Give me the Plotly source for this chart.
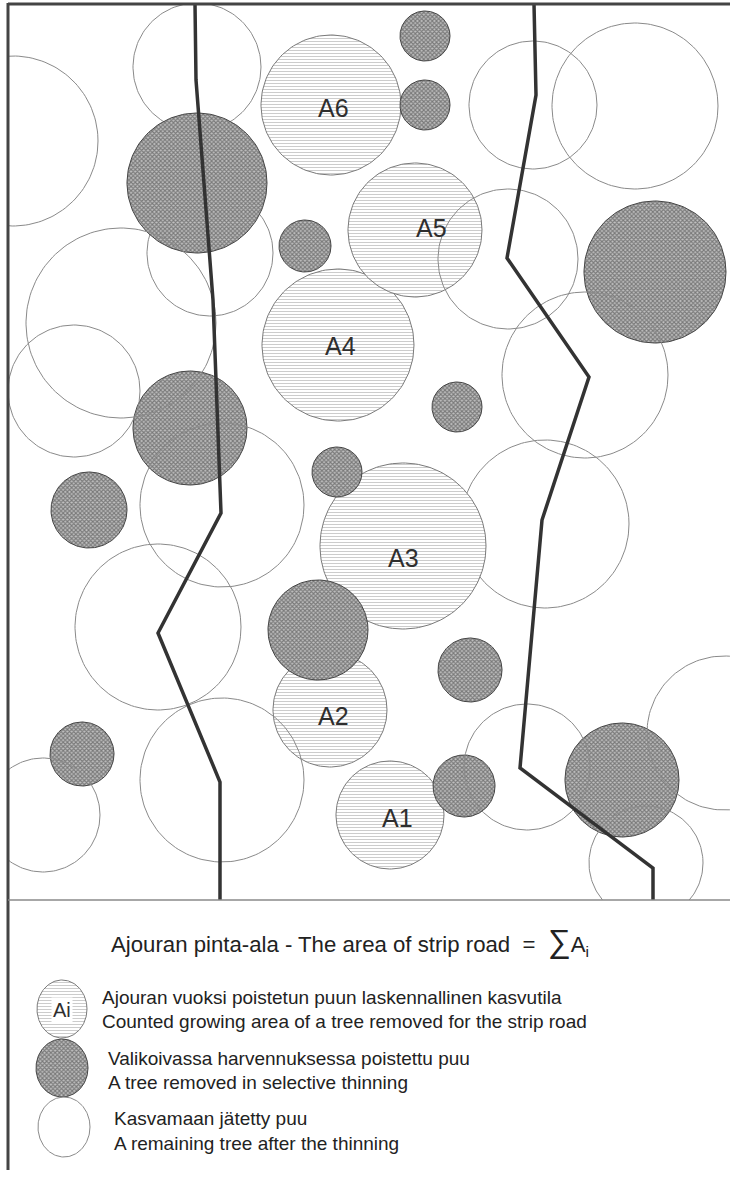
import numpy as np
import plotly.graph_objects as go

W, H = 730, 1178
PLOT_BOTTOM = 900  # y (px) of the lower border of the stand map
LEFT = 8
TOP = 4

# ---------------- data (image pixel coordinates) ----------------
# remaining trees (open circles) drawn under the filled circles
open_under_x = [197, 210, 545]
open_under_y = [67, 253, 524]
open_under_r = [64, 63, 84]
# remaining trees drawn over the filled circles
open_over_x = [13, 121, 74, 222, 158, 222, 43, 533, 635, 508, 585, 527, 724, 646]
open_over_y = [141, 323, 391, 505, 627, 780, 815, 105, 106, 259, 375, 767, 733, 863]
open_over_r = [85, 95, 66, 82, 83, 82, 57, 64, 83, 70, 83, 63, 77, 57]

# trees removed for the strip road (Ai)
strip_labels = ["A1", "A2", "A3", "A4", "A5", "A6"]
strip_x = [390, 330, 403, 338, 415, 331]
strip_y = [815, 710, 546, 345, 230, 105]
strip_r = [54, 57, 83, 76, 67, 70]
strip_label_x = [397, 333, 403, 340, 431, 333]
strip_label_y = [818, 716, 558, 346, 228, 108]

# trees removed in selective thinning
thin_x = [197, 305, 425, 425, 655, 190, 89, 337, 457, 318, 470, 464, 622, 82]
thin_y = [183, 246, 36, 105, 272, 428, 510, 472, 407, 630, 670, 786, 780, 754]
thin_r = [70, 26, 25, 25, 71, 57, 38, 25, 25, 50, 32, 31, 57, 32]

# strip road edges
road_left_x = [195, 196, 213, 221, 158, 220, 220]
road_left_y = [4, 80, 300, 513, 633, 782, 900]
road_right_x = [534, 536, 507, 589, 542, 520, 653, 653]
road_right_y = [4, 95, 258, 377, 520, 768, 868, 900]

# legend
title_text = "Ajouran pinta-ala - The area of strip road"
legend_lines = [
    ("Ajouran vuoksi poistetun puun laskennallinen kasvutila",
     "Counted growing area of a tree removed for the strip road"),
    ("Valikoivassa harvennuksessa poistettu puu",
     "A tree removed in selective thinning"),
    ("Kasvamaan jätetty puu",
     "A remaining tree after the thinning"),
]
legend_cx = [62, 62, 64]
legend_cy = [1009, 1068, 1127]
legend_rx = [25, 26, 26]
legend_ry = [29, 29, 30]
legend_text_x = [100, 106, 112]
legend_text_y1 = [997, 1058, 1118]
legend_text_y2 = [1021, 1082, 1143]

FONT = "Liberation Sans, Arial, sans-serif"

HATCH = dict(shape="-", size=3, solidity=0.35, fgcolor="#9a9a9a", bgcolor="white")
CROSS = dict(shape="x", size=3, solidity=0.6, fgcolor="#333333", bgcolor="#c0c0c0")


def circle_xy(cx, cy, rx, ry=None, n=160):
    ry = rx if ry is None else ry
    t = np.linspace(0, 2 * np.pi, n)
    return cx + rx * np.cos(t), cy + ry * np.sin(t)


fig = go.Figure()


def add_circle(cx, cy, r, kind, ry=None, axes=("x", "y")):
    xs, ys = circle_xy(cx, cy, r, ry)
    common = dict(x=xs, y=ys, mode="lines", hoverinfo="skip", showlegend=False,
                  xaxis=axes[0], yaxis=axes[1])
    if kind == "open":
        fig.add_trace(go.Scatter(line=dict(color="#8a8a8a", width=1), **common))
    elif kind == "hatch":
        fig.add_trace(go.Scatter(fill="toself", fillpattern=HATCH, fillcolor="white",
                                 line=dict(color="#7a7a7a", width=1), **common))
    else:
        fig.add_trace(go.Scatter(fill="toself", fillpattern=CROSS, fillcolor="#c0c0c0",
                                 line=dict(color="#444444", width=1), **common))


for cx, cy, r in zip(open_under_x, open_under_y, open_under_r):
    add_circle(cx, cy, r, "open")
for cx, cy, r in zip(strip_x, strip_y, strip_r):
    add_circle(cx, cy, r, "hatch")
for cx, cy, r in zip(thin_x, thin_y, thin_r):
    add_circle(cx, cy, r, "cross")
for cx, cy, r in zip(open_over_x, open_over_y, open_over_r):
    add_circle(cx, cy, r, "open")

for xs, ys in [(road_left_x, road_left_y), (road_right_x, road_right_y)]:
    fig.add_trace(go.Scatter(x=xs, y=ys, mode="lines", hoverinfo="skip", showlegend=False,
                             line=dict(color="#333333", width=3.5)))

annotations = []
for lab, lx, ly in zip(strip_labels, strip_label_x, strip_label_y):
    annotations.append(dict(x=lx, y=ly, xref="x", yref="y", text=lab, showarrow=False,
                            font=dict(family=FONT, size=25, color="#2e2e2e")))

# legend symbols
kinds = ["hatch", "cross", "open"]
for cx, cy, rx, ry, k in zip(legend_cx, legend_cy, legend_rx, legend_ry, kinds):
    add_circle(cx, cy, rx, k, ry=ry, axes=("x2", "y2"))
annotations.append(dict(x=legend_cx[0], y=legend_cy[0] + 1, xref="x2", yref="y2", text="Ai",
                        showarrow=False, bgcolor="white",
                        font=dict(family=FONT, size=20, color="#2e2e2e")))

annotations.append(dict(
    x=109, y=941, xref="x2", yref="y2", xanchor="left", yanchor="middle", showarrow=False,
    text=title_text + "  =  <span style='font-size:32px'>∑</span>A<sub>i</sub>",
    font=dict(family=FONT, size=22.2, color="#222222")))

for (l1, l2), tx, y1, y2 in zip(legend_lines, legend_text_x, legend_text_y1, legend_text_y2):
    for txt, ty in [(l1, y1), (l2, y2)]:
        annotations.append(dict(x=tx, y=ty, xref="x2", yref="y2", xanchor="left",
                                yanchor="middle", text=txt, showarrow=False,
                                font=dict(family=FONT, size=19, color="#222222")))


def px(x):
    return x / W


def py(y):
    return 1 - y / H


frame = [
    dict(type="line", xref="paper", yref="paper", x0=px(LEFT), x1=1, y0=py(TOP), y1=py(TOP),
         line=dict(color="#444444", width=3)),
    dict(type="line", xref="paper", yref="paper", x0=px(LEFT), x1=px(LEFT), y0=py(TOP - 1), y1=py(1170),
         line=dict(color="#444444", width=3)),
    dict(type="line", xref="paper", yref="paper", x0=px(LEFT), x1=1, y0=py(PLOT_BOTTOM), y1=py(PLOT_BOTTOM),
         line=dict(color="#8a8a8a", width=1.5)),
]

ax_common = dict(visible=False, showgrid=False, zeroline=False, fixedrange=True)
fig.update_layout(
    width=W, height=H, margin=dict(l=0, r=0, t=0, b=0),
    paper_bgcolor="white", plot_bgcolor="white",
    xaxis=dict(range=[LEFT, W], domain=[px(LEFT), 1], **ax_common),
    yaxis=dict(range=[PLOT_BOTTOM, TOP], domain=[py(PLOT_BOTTOM), py(TOP)], **ax_common),
    xaxis2=dict(range=[0, W], domain=[0, 1], anchor="y2", **ax_common),
    yaxis2=dict(range=[H, PLOT_BOTTOM], domain=[0, py(PLOT_BOTTOM)], anchor="x2", **ax_common),
    annotations=annotations, shapes=frame,
)

fig.write_html("out.html", config={"displayModeBar": False},
               post_script="document.body.style.margin='0px';document.body.style.overflow='hidden';")
